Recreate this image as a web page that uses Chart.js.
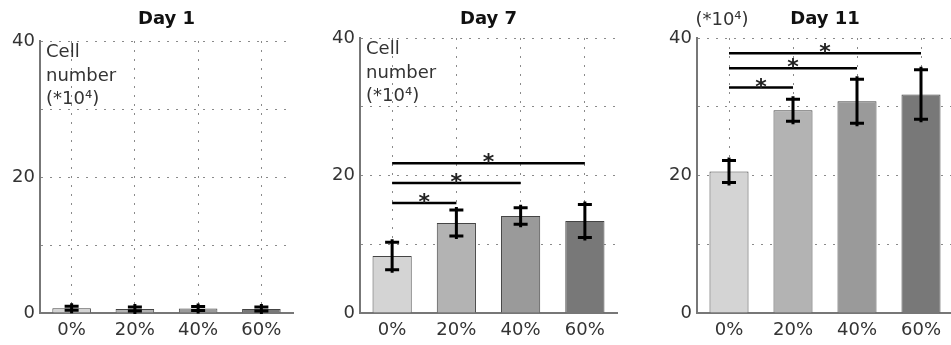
<!DOCTYPE html>
<html>
<head>
<meta charset="utf-8">
<script src="https://cdn.jsdelivr.net/npm/chart.js@4/dist/chart.umd.min.js"></script>
<style>
  body { margin: 0; background: #fff; width: 951px; height: 345px; overflow: hidden; position: relative; }
  .panel { position: absolute; top: 0; }
</style>
</head>
<body>
<div class="panel" style="left:0px"><canvas id="day1" width="300" height="345"></canvas></div>
<div class="panel" style="left:320px"><canvas id="day7" width="300" height="345"></canvas></div>
<div class="panel" style="left:657px"><canvas id="day11" width="300" height="345"></canvas></div>
<script>
var categories = ['0%', '20%', '40%', '60%'];
var barColors = ['#d4d4d4', '#b3b3b3', '#9a9a9a', '#787878'];
var yTickLabels = [0, 20, 40];

// mean cell number (*10^4) and error per category
var day1Values = [0.7, 0.6, 0.65, 0.6];
var day1Errors = [0.3, 0.3, 0.3, 0.3];
var day7Values = [8.3, 13.1, 14.1, 13.4];
var day7Errors = [2.0, 1.9, 1.2, 2.4];
var day11Values = [20.6, 29.5, 30.8, 31.8];
var day11Errors = [1.6, 1.6, 3.2, 3.6];

// significance brackets: [from index, to index, height in y units]
var day1Sig = [];
var day7Sig = [[0, 1, 16.0], [0, 2, 18.9], [0, 3, 21.8]];
var day11Sig = [[0, 1, 32.8], [0, 2, 35.6], [0, 3, 37.8]];

var graphDictionary = {};

// draws error bars, significance brackets and the unit note
const extrasPlugin = {
    id: 'extras',
    afterDatasetsDraw(chart, args, opts) {
        var ctx = chart.ctx;
        var x = chart.scales.x;
        var y = chart.scales.y;
        ctx.save();
        ctx.strokeStyle = '#000';
        ctx.lineCap = 'butt';
        // error bars
        opts.values.forEach(function (v, i) {
            var px = x.getPixelForValue(i);
            var top = y.getPixelForValue(v + opts.errors[i]);
            var bot = y.getPixelForValue(v - opts.errors[i]);
            ctx.lineWidth = 3;
            ctx.beginPath();
            ctx.moveTo(px, top - 3);
            ctx.lineTo(px, bot + 3);
            ctx.moveTo(px - 7, top);
            ctx.lineTo(px + 7, top);
            ctx.moveTo(px - 7, bot);
            ctx.lineTo(px + 7, bot);
            ctx.stroke();
        });
        // significance brackets
        opts.sig.forEach(function (s) {
            var x1 = x.getPixelForValue(s[0]);
            var x2 = x.getPixelForValue(s[1]);
            var py = y.getPixelForValue(s[2]);
            ctx.lineWidth = 2.5;
            ctx.beginPath();
            ctx.moveTo(x1, py);
            ctx.lineTo(x2, py);
            ctx.stroke();
            ctx.fillStyle = '#222';
            ctx.font = 'bold 22px "DejaVu Sans"';
            ctx.textAlign = 'center';
            ctx.textBaseline = 'alphabetic';
            ctx.fillText('*', (x1 + x2) / 2, py + 6);
        });
        // unit note
        ctx.fillStyle = '#333';
        ctx.font = '18px "DejaVu Sans"';
        ctx.textAlign = 'left';
        ctx.textBaseline = 'middle';
        if (opts.note === 'inside') {
            var lx = chart.chartArea.left + 6;
            var ty = chart.chartArea.top;
            ctx.fillText('Cell', lx, ty + 11);
            ctx.fillText('number', lx, ty + 35);
            ctx.fillText('(*10\u2074)', lx, ty + 58);
        } else if (opts.note === 'above') {
            ctx.textAlign = 'center';
            ctx.fillText('(*10\u2074)', chart.chartArea.left + 25, 20);
        }
        ctx.restore();
    }
};

function plotDay(id, title, values, errors, sig, note, padRight, topPad) {
    var canvas = document.getElementById(id);
    const config = {
        type: 'bar',
        data: {
            labels: categories,
            datasets: [{
                data: values,
                backgroundColor: barColors,
                borderColor: '#444',
                borderWidth: 1,
                barPercentage: 0.61,
                categoryPercentage: 1.0
            }]
        },
        options: {
            responsive: false,
            animation: false,
            layout: { padding: { left: 0, right: padRight, top: 0, bottom: 0 } },
            plugins: {
                legend: { display: false },
                tooltip: { enabled: false },
                title: {
                    display: true,
                    fullSize: false,
                    text: title,
                    color: '#111',
                    font: { family: 'DejaVu Sans', size: 18, weight: 'bold' },
                    padding: { top: 9, bottom: topPad }
                },
                extras: { values: values, errors: errors, sig: sig, note: note }
            },
            scales: {
                x: {
                    offset: true,
                    afterFit: function (scale) { scale.height = 32; },
                    ticks: {
                        color: '#333',
                        padding: 7,
                        font: { family: 'DejaVu Sans', size: 18 }
                    },
                    grid: {
                        offset: false,
                        drawTicks: false,
                        color: '#8a8a8a',
                        lineWidth: 1
                    },
                    border: { display: true, color: '#777', width: 2, dash: [2, 7] }
                },
                y: {
                    min: 0,
                    max: 40,
                    afterFit: function (scale) { scale.width = 40; },
                    ticks: {
                        stepSize: 10,
                        color: '#333',
                        padding: 5,
                        font: { family: 'DejaVu Sans', size: 18 },
                        callback: function (v) { return yTickLabels.indexOf(v) >= 0 ? v : ''; }
                    },
                    grid: {
                        drawTicks: false,
                        color: function (c) { return c.tick.value === 0 ? 'rgba(0,0,0,0)' : '#8a8a8a'; },
                        lineWidth: 1
                    },
                    border: { display: true, color: '#777', width: 2, dash: [2, 7] }
                }
            }
        },
        plugins: [extrasPlugin]
    };
    if (!(graphDictionary[id] === undefined)) {
        graphDictionary[id].destroy()
    }
    graphDictionary[id] = new Chart(canvas, config);
}

plotDay('day1', 'Day 1', day1Values, day1Errors, day1Sig, 'inside', 7, 10.4);
plotDay('day7', 'Day 7', day7Values, day7Errors, day7Sig, 'inside', 3, 7.4);
plotDay('day11', 'Day 11', day11Values, day11Errors, day11Sig, 'above', 4, 7.4);
</script>
</body>
</html>
